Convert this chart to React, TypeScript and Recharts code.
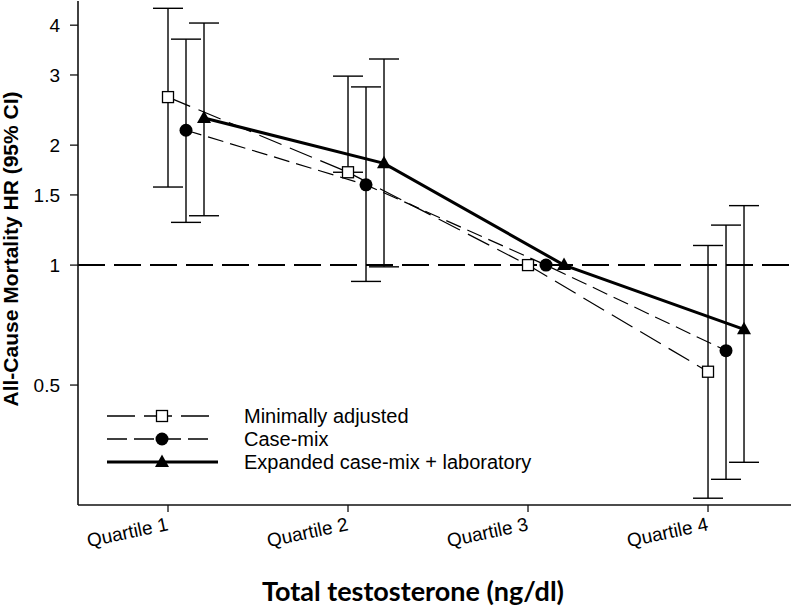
import React from "react";
import { ErrorBar, Line, LineChart, ReferenceLine, XAxis, YAxis } from "recharts";

const quartiles = ["Quartile 1", "Quartile 2", "Quartile 3", "Quartile 4"];
const yTicks = [0.5, 1, 1.5, 2, 3, 4];
const seriesNames = ["Minimally adjusted", "Case-mix", "Expanded case-mix + laboratory"];

// hazard ratios and 95% CI per quartile (Q3 is the reference)
const minimalHR = [2.64, 1.71, 1, 0.54];
const minimalLow = [1.57, 1.71, null, 0.26];
const minimalHigh = [4.41, 2.98, null, 1.12];

const caseMixHR = [2.18, 1.59, 1, 0.61];
const caseMixLow = [1.28, 0.91, null, 0.29];
const caseMixHigh = [3.69, 2.8, null, 1.26];

const expandedHR = [2.34, 1.8, 1, 0.69];
const expandedLow = [1.33, 0.99, null, 0.32];
const expandedHigh = [4.05, 3.29, null, 1.41];

const ARIAL = "'Liberation Sans', Arial, sans-serif";

function buildSeries(
  hr: number[],
  low: (number | null)[],
  high: (number | null)[],
  shift: number
) {
  return hr.map((v, i) => ({
    x: i + 1 + shift,
    hr: v,
    err: low[i] == null ? null : [v - (low[i] as number), (high[i] as number) - v],
  }));
}

const minimalData = buildSeries(minimalHR, minimalLow, minimalHigh, 0);
const caseMixData = buildSeries(caseMixHR, caseMixLow, caseMixHigh, 0.1);
const expandedData = buildSeries(expandedHR, expandedLow, expandedHigh, 0.2);

function SquareMark({ cx, cy }: { cx: number; cy: number }) {
  return (
    <rect x={cx - 5.5} y={cy - 5.5} width={11} height={11} fill="#fff" stroke="#000" strokeWidth={1.3} />
  );
}
function CircleMark({ cx, cy }: { cx: number; cy: number }) {
  return <circle cx={cx} cy={cy} r={6.5} fill="#000" />;
}
function TriangleMark({ cx, cy }: { cx: number; cy: number }) {
  return (
    <polygon points={`${cx},${cy - 7.5} ${cx - 7},${cy + 5} ${cx + 7},${cy + 5}`} fill="#000" />
  );
}

const squareDot = (p: any) => <SquareMark key={`s-${p.index}`} cx={p.cx} cy={p.cy} />;
const circleDot = (p: any) => <CircleMark key={`c-${p.index}`} cx={p.cx} cy={p.cy} />;
const triangleDot = (p: any) => <TriangleMark key={`t-${p.index}`} cx={p.cx} cy={p.cy} />;

function QuartileTick(props: any) {
  const { x, y, payload } = props;
  return (
    <text
      transform={`translate(${x + 1},${y + 16}) rotate(-12)`}
      textAnchor="end"
      fontFamily={ARIAL}
      fontSize={19}
      fill="#000"
    >
      {quartiles[payload.value - 1]}
    </text>
  );
}

const legendRows = [
  { dash: "28 9", width: 1.3, end: 209, mark: SquareMark },
  { dash: "20 7", width: 1.3, end: 210, mark: CircleMark },
  { dash: undefined, width: 3, end: 218, mark: TriangleMark },
];

export default function App() {
  return (
    <div style={{ position: "absolute", left: 0, top: 0, width: 800, height: 607, background: "#fff" }}>
      <LineChart width={800} height={607} margin={{ top: 1, right: 9, left: 0, bottom: 0 }}>
        <XAxis
          dataKey="x"
          type="number"
          domain={[0.5, 4.461]}
          allowDataOverflow
          ticks={[1, 2, 3, 4]}
          tick={<QuartileTick />}
          tickSize={7}
          tickMargin={2}
          height={102}
          axisLine={{ stroke: "#111", strokeWidth: 1.6 }}
          tickLine={{ stroke: "#111", strokeWidth: 1.3 }}
        />
        <XAxis
          xAxisId="top"
          orientation="top"
          type="number"
          domain={[0.5, 4.461]}
          height={0}
          tick={false}
          tickLine={false}
          axisLine={{ stroke: "#111", strokeWidth: 1.6 }}
        />
        <YAxis
          scale="log"
          type="number"
          domain={[0.25, 4.6]}
          allowDataOverflow
          ticks={yTicks}
          width={78}
          tickSize={8}
          tickMargin={10}
          tick={{ fontSize: 19, fill: "#000", fontFamily: ARIAL }}
          axisLine={{ stroke: "#111", strokeWidth: 1.6 }}
          tickLine={{ stroke: "#111", strokeWidth: 1.3 }}
        />
        <YAxis
          yAxisId="right"
          orientation="right"
          width={0}
          tick={false}
          tickLine={false}
          axisLine={{ stroke: "#111", strokeWidth: 1.6 }}
        />
        <ReferenceLine y={1} stroke="#000" strokeWidth={2} strokeDasharray="27 9" />
        <Line
          data={minimalData}
          dataKey="hr"
          stroke="#000"
          strokeWidth={1.2}
          strokeDasharray="24 9"
          dot={squareDot}
          activeDot={false}
          isAnimationActive={false}
        >
          <ErrorBar dataKey="err" direction="y" width={15} stroke="#000" strokeWidth={1.4} />
        </Line>
        <Line
          data={caseMixData}
          dataKey="hr"
          stroke="#000"
          strokeWidth={1.2}
          strokeDasharray="16 7"
          dot={circleDot}
          activeDot={false}
          isAnimationActive={false}
        >
          <ErrorBar dataKey="err" direction="y" width={15} stroke="#000" strokeWidth={1.4} />
        </Line>
        <Line
          data={expandedData}
          dataKey="hr"
          stroke="#000"
          strokeWidth={3}
          dot={triangleDot}
          activeDot={false}
          isAnimationActive={false}
        >
          <ErrorBar dataKey="err" direction="y" width={15} stroke="#000" strokeWidth={1.4} />
        </Line>
      </LineChart>
      <svg
        width={800}
        height={607}
        style={{ position: "absolute", left: 0, top: 0, pointerEvents: "none" }}
      >
        <text
          transform="translate(18,249) rotate(-90)"
          textAnchor="middle"
          fontFamily={ARIAL}
          fontWeight="bold"
          fontSize={21}
          fill="#000"
        >
          All-Cause Mortality HR (95% CI)
        </text>
        <text
          x={413}
          y={601}
          textAnchor="middle"
          fontFamily="Lato, 'Open Sans', sans-serif"
          fontWeight="bold"
          fontSize={27}
          fill="#000"
        >
          Total testosterone (ng/dl)
        </text>
        {legendRows.map((row, i) => {
          const y = 416 + i * 23;
          const Mark = row.mark;
          return (
            <g key={seriesNames[i]}>
              <line
                x1={107}
                x2={row.end}
                y1={y}
                y2={y}
                stroke="#000"
                strokeWidth={row.width}
                strokeDasharray={row.dash}
              />
              <Mark cx={162} cy={y} />
              <text x={244} y={y + 7} fontFamily={ARIAL} fontSize={20} fill="#000">
                {seriesNames[i]}
              </text>
            </g>
          );
        })}
      </svg>
    </div>
  );
}
